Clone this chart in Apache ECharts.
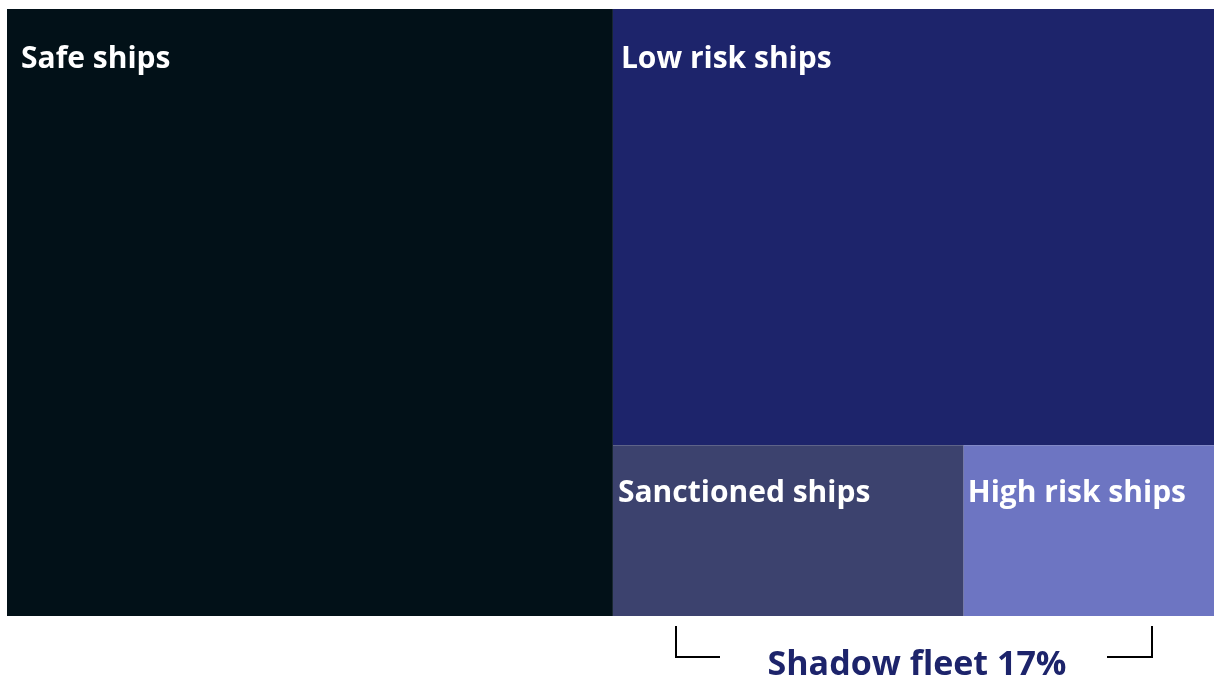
<!DOCTYPE html>
<html>
<head>
<meta charset="utf-8">
<script src="https://cdn.jsdelivr.net/npm/echarts@6/dist/echarts.min.js"></script>
<style>
html,body{margin:0;padding:0;background:#fff;}
#main{width:1214px;height:684px;}
</style>
</head>
<body>
<div id="main"></div>
<script>
const categories = ['Safe ships', 'Low risk ships', 'Sanctioned ships', 'High risk ships'];
const values = [50.2, 35.8, 8.17, 5.83];
const colors = ['#021118', '#1d246b', '#3c426e', '#6d75c2'];
const labelPads = [[35, 0, 0, 14], [35, 0, 0, 8], [33, 0, 0, 5], [33, 0, 0, 4]];
const annotation = 'Shadow fleet 17%';

const data = categories.map((c, i) => ({
  name: c,
  value: values[i],
  itemStyle: { color: colors[i] },
  label: { padding: labelPads[i] }
}));

const chart = echarts.init(document.getElementById('main'), null, { renderer: 'canvas' });
chart.setOption({
  animation: false,
  series: [{
    type: 'treemap',
    left: 7, top: 9, width: 1207, height: 607,
    roam: false,
    nodeClick: false,
    breadcrumb: { show: false },
    sort: false,
    itemStyle: { borderWidth: 0, gapWidth: 0, borderColor: 'transparent' },
    label: {
      show: true,
      position: 'insideTopLeft',
      distance: 0,
      color: '#ffffff',
      fontFamily: 'Open Sans',
      fontWeight: 'bold',
      fontSize: 30,
      lineHeight: 30,
      formatter: '{b}'
    },
    emphasis: { disabled: true },
    data: data
  }],
  graphic: [
    { type: 'polyline', shape: { points: [[676, 626], [676, 657], [720, 657]] }, style: { stroke: '#000', lineWidth: 2, fill: null } },
    { type: 'polyline', shape: { points: [[1107, 657], [1152, 657], [1152, 626]] }, style: { stroke: '#000', lineWidth: 2, fill: null } },
    { type: 'text', x: 917, y: 665, style: { text: annotation, fill: '#1d246b', font: 'bold 34px "Open Sans"', textAlign: 'center', textVerticalAlign: 'middle' } }
  ]
});
</script>
</body>
</html>
